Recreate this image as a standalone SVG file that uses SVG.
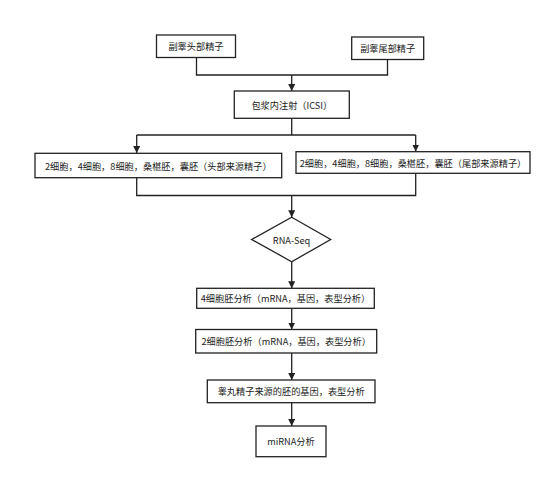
<svg xmlns="http://www.w3.org/2000/svg" width="558" height="481" viewBox="0 0 558 481">
<defs>
<marker id="ah" viewBox="0 0 10 10" refX="10" refY="5" markerWidth="7" markerHeight="7" markerUnits="userSpaceOnUse" orient="auto">
<path d="M0,0 L10,5 L0,10 z" fill="#222"/>
</marker>
<style>
.box{fill:#fff;stroke:#222;stroke-width:1.3}
.t{font-family:"Noto Sans CJK SC","Noto Sans",sans-serif;font-size:9.2px;fill:#222;text-anchor:middle;dominant-baseline:central}
.c{fill:none;stroke:#222;stroke-width:1.3}
</style>
</defs>
<rect width="558" height="481" fill="#fff"/>
<g id="connectors">
<polyline class="c" points="196.5,57.5 196.5,75 387.5,75 387.5,59.5"/>
<line class="c" x1="291.7" y1="75" x2="291.7" y2="91" marker-end="url(#ah)"/>
<line class="c" x1="291.7" y1="118.5" x2="291.7" y2="135"/>
<line class="c" x1="136.7" y1="135" x2="415.7" y2="135"/>
<line class="c" x1="136.7" y1="135" x2="136.7" y2="153" marker-end="url(#ah)"/>
<line class="c" x1="415.7" y1="135" x2="415.7" y2="151.5" marker-end="url(#ah)"/>
<polyline class="c" points="136.7,178 136.7,195.5 415.7,195.5 415.7,173.5"/>
<line class="c" x1="291.7" y1="195.5" x2="291.7" y2="217.3" marker-end="url(#ah)"/>
<line class="c" x1="291.7" y1="261.7" x2="291.7" y2="288.3" marker-end="url(#ah)"/>
<line class="c" x1="291.7" y1="308.3" x2="291.7" y2="329.5" marker-end="url(#ah)"/>
<line class="c" x1="291.7" y1="353" x2="291.7" y2="380" marker-end="url(#ah)"/>
<line class="c" x1="291.7" y1="402.7" x2="291.7" y2="426" marker-end="url(#ah)"/>
</g>
<g id="n1"><rect class="box" x="156.5" y="35" width="79" height="22.5"/><text class="t" x="196" y="46.3">副睾头部精子</text></g>
<g id="n2"><rect class="box" x="351.7" y="37" width="72" height="22.5"/><text class="t" x="387.7" y="48.3">副睾尾部精子</text></g>
<g id="n3"><rect class="box" x="234.3" y="91" width="115" height="27.3"/><text class="t" x="291.8" y="104.7">包浆内注射（ICSI）</text></g>
<g id="n4"><rect class="box" x="35" y="153.3" width="246.7" height="24.4"/><text class="t" x="158.3" y="165.5">2细胞，4细胞，8细胞，桑椹胚，囊胚（头部来源精子）</text></g>
<g id="n5"><rect class="box" x="296" y="151.7" width="234" height="21.6"/><text class="t" x="413" y="162.5">2细胞，4细胞，8细胞，桑椹胚，囊胚（尾部来源精子）</text></g>
<g id="n6"><polygon class="box" points="291.7,217.3 330.7,239.5 291.7,261.7 251.7,239.5"/><text class="t" x="291.5" y="239.5">RNA-Seq</text></g>
<g id="n7"><rect class="box" x="196.7" y="288.3" width="177.6" height="20"/><text class="t" x="285.5" y="298.3">4细胞胚分析（mRNA，基因，表型分析）</text></g>
<g id="n8"><rect class="box" x="195.7" y="329.5" width="181" height="23.5"/><text class="t" x="286.2" y="341.2">2细胞胚分析（mRNA，基因，表型分析）</text></g>
<g id="n9"><rect class="box" x="207.3" y="380" width="167.7" height="22.7"/><text class="t" x="291.2" y="391.3">睾丸精子来源的胚的基因，表型分析</text></g>
<g id="n10"><rect class="box" x="256" y="426" width="70" height="30.7"/><text class="t" x="291" y="441.3">miRNA分析</text></g>
</svg>
